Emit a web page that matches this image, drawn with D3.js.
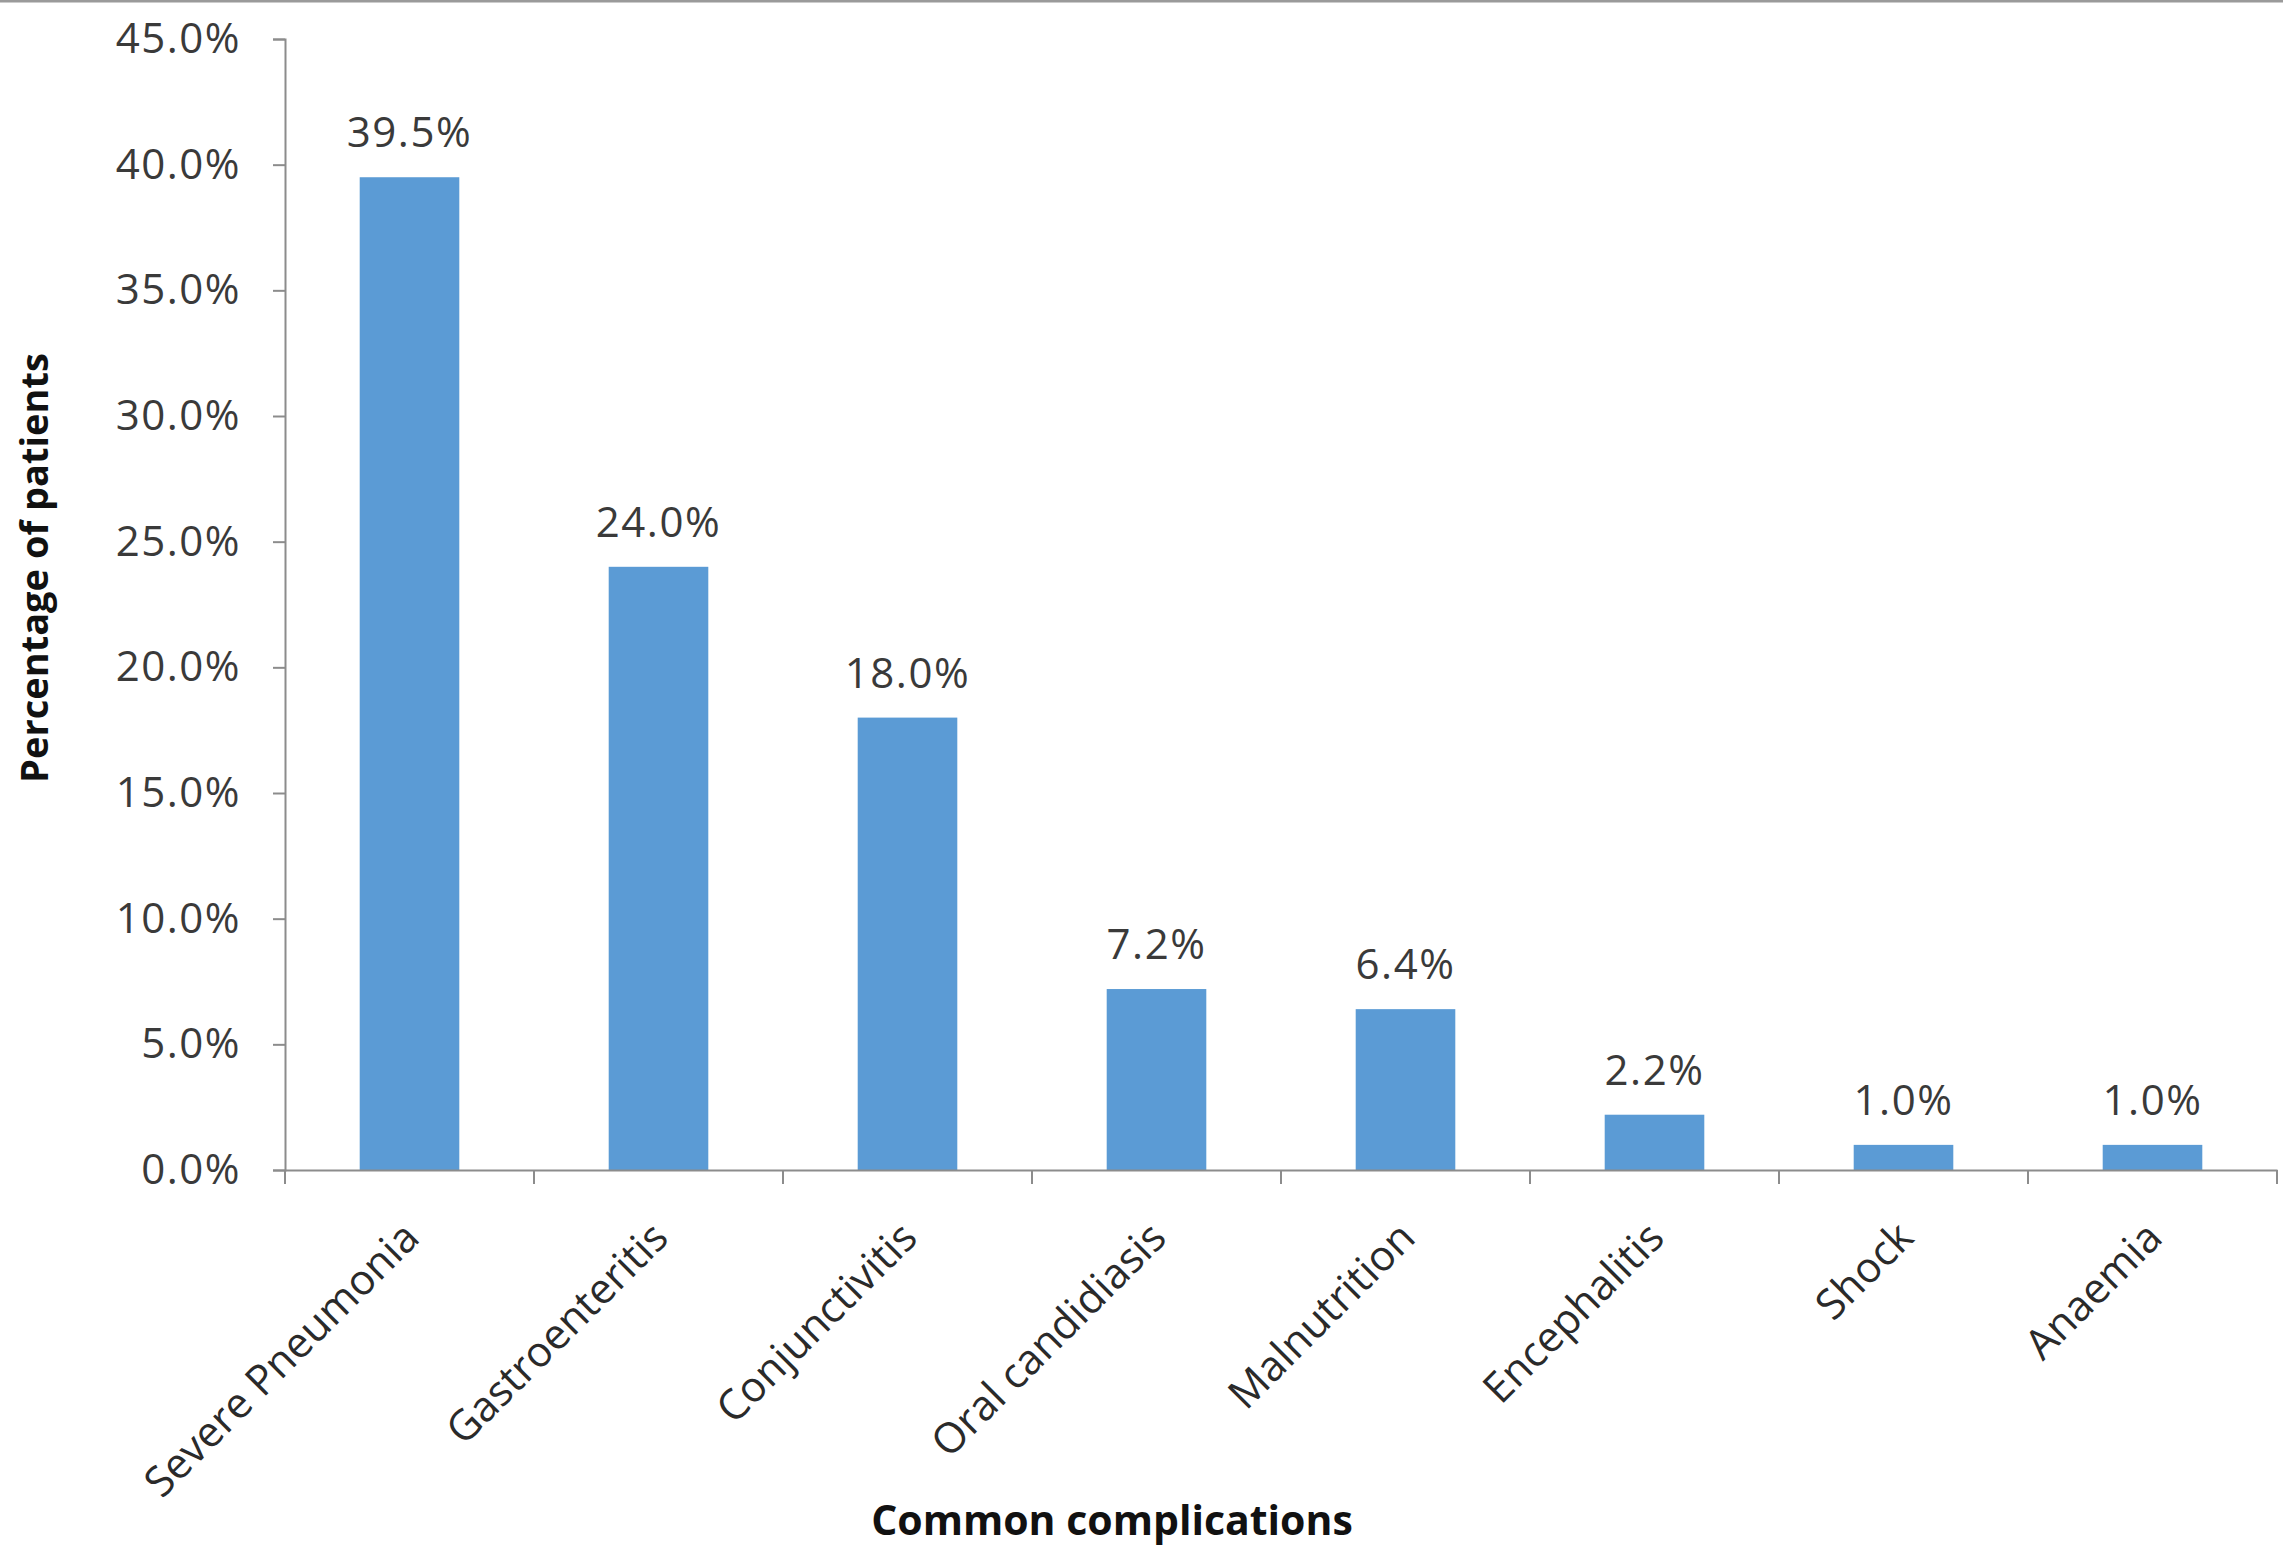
<!DOCTYPE html>
<html>
<head>
<meta charset="utf-8">
<script src="https://cdn.jsdelivr.net/npm/d3@7"></script>
<style>
  body { margin: 0; background: #fff; }
  text { font-family: "Open Sans", sans-serif; }
</style>
</head>
<body>
<div class="chart"></div>
<script>
var categories = ["Severe Pneumonia", "Gastroenteritis", "Conjunctivitis", "Oral candidiasis", "Malnutrition", "Encephalitis", "Shock", "Anaemia"]
var values = [39.5, 24.0, 18.0, 7.2, 6.4, 2.2, 1.0, 1.0]
var yTicks = [0, 5, 10, 15, 20, 25, 30, 35, 40, 45]

function drawChart(){
    var svg = d3.select(".chart").append("svg")
        .attr("width", 2283)
        .attr("height", 1548)

    var left = 285, right = 2277, top = 39, bottom = 1170

    // thin frame line along the top of the picture
    svg.append("line")
        .attr("x1", 0).attr("x2", 2283)
        .attr("y1", 1).attr("y2", 1)
        .attr("stroke", "#9a9a9a")
        .attr("stroke-width", 3)

    var x = d3.scaleBand()
        .domain(categories)
        .range([left, right])
        .paddingInner(0.6)
        .paddingOuter(0.3)

    var y = d3.scaleLinear()
        .domain([0, 45])
        .range([bottom, top])

    var yAxis = d3.axisLeft(y)
        .tickValues(yTicks)
        .tickSize(12)
        .tickPadding(32)
        .tickFormat(function(d){ return d.toFixed(1) + "%" })

    var gy = svg.append("g")
        .attr("class", "axis y")
        .attr("transform", "translate(" + left + ",0)")
        .call(yAxis)
    gy.select(".domain").attr("stroke", "#8c8c8c").attr("stroke-width", 2)
    gy.selectAll(".tick line").attr("stroke", "#8c8c8c").attr("stroke-width", 2)
    gy.selectAll(".tick text")
        .attr("font-size", 42)
        .attr("letter-spacing", 1.5)
        .attr("fill", "#3a3a3a")
        .attr("font-family", "Open Sans")

    svg.selectAll(".bar")
        .data(values).enter().append("rect")
        .attr("class", "bar")
        .attr("x", function(d, i){ return x(categories[i]) })
        .attr("y", function(d){ return y(d) })
        .attr("width", x.bandwidth())
        .attr("height", function(d){ return y(0) - y(d) })
        .attr("fill", "#5b9bd5")

    svg.selectAll(".value")
        .data(values).enter().append("text")
        .attr("class", "value")
        .attr("x", function(d, i){ return x(categories[i]) + x.bandwidth() / 2 })
        .attr("y", function(d){ return y(d) - 30 })
        .attr("text-anchor", "middle")
        .attr("font-size", 42)
        .attr("letter-spacing", 1.5)
        .attr("fill", "#3a3a3a")
        .text(function(d){ return d.toFixed(1) + "%" })

    var xAxis = d3.axisBottom(x).tickSize(0).tickFormat("")
    var gx = svg.append("g")
        .attr("class", "axis x")
        .attr("transform", "translate(0," + bottom + ")")
        .call(xAxis)
    gx.select(".domain").attr("stroke", "#8c8c8c").attr("stroke-width", 2)

    // tick marks sit between the categories
    var bounds = d3.range(categories.length + 1)
    gx.selectAll(".bound")
        .data(bounds).enter().append("line")
        .attr("class", "bound")
        .attr("x1", function(i){ return left + i * x.step() })
        .attr("x2", function(i){ return left + i * x.step() })
        .attr("y1", 0).attr("y2", 14)
        .attr("stroke", "#8c8c8c")
        .attr("stroke-width", 2)

    gx.selectAll(".cat")
        .data(categories).enter().append("text")
        .attr("class", "cat")
        .attr("text-anchor", "end")
        .attr("font-size", 42)
        .attr("fill", "#2a2a2a")
        .attr("transform", function(d){
            return "translate(" + (x(d) + x.bandwidth() / 2 + 12) + ",70) rotate(-45)"
        })
        .text(function(d){ return d })

    svg.append("text")
        .attr("transform", "translate(48," + 568 + ") rotate(-90)")
        .attr("text-anchor", "middle")
        .attr("font-size", 38)
        .attr("font-weight", "bold")
        .attr("fill", "#111")
        .text("Percentage of patients")

    svg.append("text")
        .attr("x", 1112)
        .attr("y", 1535)
        .attr("text-anchor", "middle")
        .attr("font-size", 41)
        .attr("font-weight", "bold")
        .attr("fill", "#111")
        .text("Common complications")
}
drawChart()
</script>
</body>
</html>
